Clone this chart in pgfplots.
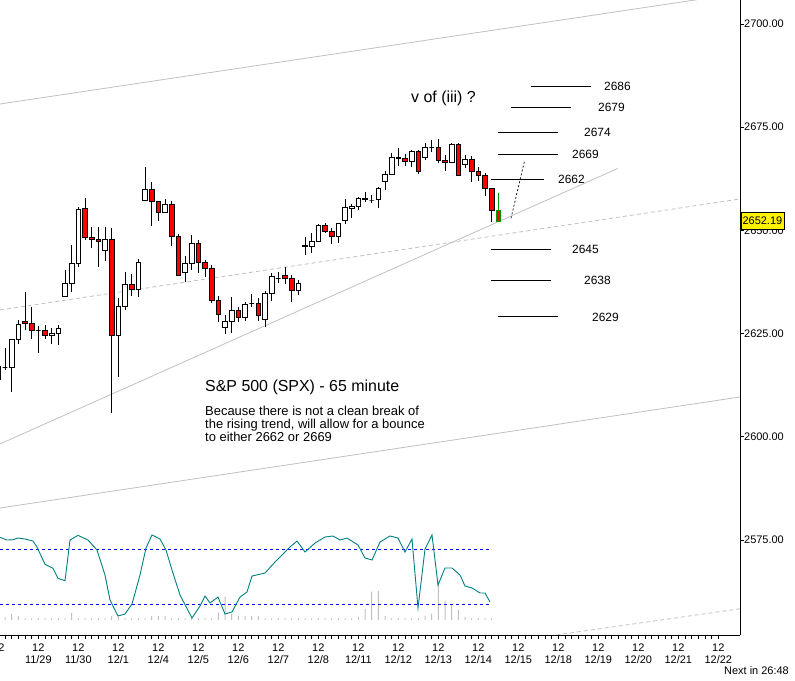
\documentclass[border=0pt]{standalone}
\usepackage{fontspec}
\setmainfont{Liberation Sans}
\usepackage{pgfplots}
\pgfplotsset{compat=1.18}
\definecolor{chgray}{RGB}{192,192,192}
\definecolor{osc}{RGB}{0,128,128}
\definecolor{cgreen}{RGB}{0,150,0}
% candle: k, open, high, low, close, fill colour, outline colour
\newcommand\cdl[7][black]{%
  \pgfmathsetmacro\cdlo{min(#3,#6)}%
  \pgfmathsetmacro\cdhi{max(#3,#6)}%
  \pgfmathsetmacro\cxa{#2-0.36}%
  \pgfmathsetmacro\cxb{#2+0.36}%
  \edef\cdlcmd{\noexpand\addplot[#1, line width=0.8bp] coordinates {(#2,#5) (#2,#4)};
    \noexpand\addplot[draw=#1, fill=#7, line width=0.8bp] coordinates {(\cxa,\cdlo) (\cxb,\cdlo) (\cxb,\cdhi) (\cxa,\cdhi)} -- cycle;}%
  \cdlcmd}
\pgfplotsset{base/.style={at={(0,0)}, anchor=south west, scale only axis,
  width=740bp, height=635bp, xmin=-0.75, xmax=110.25}}
\begin{document}
\begin{tikzpicture}
\path[use as bounding box] (0,-46bp) rectangle (795bp,635bp);
% volume-like bars
\begin{axis}[base, ymin=-15, ymax=620, hide axis, ybar, bar width=1bp]
\addplot[fill=chgray, draw=none, bar shift=0pt] coordinates {
(0,2.7)(1,6)(2,4)(3,1.5)(4,1.5)(5,1.5)(6,1.5)(7,1.5)(8,1.5)(9,1.5)(10,7)(11,1.5)(12,1.5)(13,1.5)(14,1.5)(15,1.5)
(16,4)(17,3)(18,1.5)(19,1.5)(20,1.5)(21,1.5)(22,4)(23,4)(24,4)(25,1.5)(26,1.5)(27,1.5)(28,1.5)(29,1.5)(30,1.5)(31,1.5)
(32,7.7)(33,23.3)(34,6)(35,4)(36,4)(37,4)(38,4)(39,1.5)(40,1.5)(41,1.5)(42,1.5)(43,1.5)(44,1.5)(45,1.5)(46,1.5)(47,1.5)
(48,1.5)(49,1.5)(50,1.5)(51,1.5)(52,1.5)(53,3.3)(54,11)(55,28.3)(56,29)(57,4)(58,1.5)(59,1.5)(60,1.5)(61,1.5)(62,1.5)
(63,4)(64,6.3)(65,35.7)(66,19)(67,15.7)(68,10)(69,3)(70,1.5)(71,1.5)(72,1.5)(73,1.5)};
\end{axis}
% oscillator
\begin{axis}[base, ymin=-13.8, ymax=678.9, hide axis]
\addplot[blue, line width=0.8bp, dash pattern=on 3bp off 3bp] coordinates {(-0.75,80) (72.75,80)};
\addplot[blue, line width=0.8bp, dash pattern=on 3bp off 3bp] coordinates {(-0.75,20) (72.75,20)};
\addplot[osc, line width=0.9bp] coordinates {
(-0.75,92.8)(0.3,89.8)(1.2,90.1)(1.95,92.0)(3,90.9)(4.2,88.7)(4.8,82.2)(6,63.3)(7.2,58.9)(7.95,48.0)(9,45.4)
(9.75,89.8)(10.95,94.9)(12.45,89.8)(13.8,78.9)(15,51.6)(15.75,24.4)(16.95,6.9)(18,9.1)(19.05,20.0)(20.25,51.6)
(21.15,81.1)(22.05,95.3)(23.25,90.9)(24.15,78.9)(25.05,57.1)(26.25,29.8)(28.05,4.7)(29.25,17.8)(30,28.7)(30.75,21.1)
(31.95,27.6)(33,9.1)(34.05,11.3)(35.25,27.6)(36.3,33.1)(37.05,50.5)(39,53.8)(40.5,65.8)(42.75,82.2)(43.8,88.7)
(45,76.7)(46.5,86.5)(48,93.1)(49.2,94.2)(50.25,89.8)(51.3,92.0)(52.95,84.4)(54,70.2)(55.05,68.0)(56.25,87.6)
(57.75,94.2)(58.95,92.0)(60,76.7)(61.05,90.9)(61.95,15.6)(63,80.0)(64.05,95.3)(64.95,40.7)(66,59.3)(67.05,59.3)
(68.25,51.6)(69,39.6)(70.05,37.5)(71.25,32.0)(72,32.0)(72.75,22.2)};
\end{axis}
% price
\begin{axis}[base, ymin=2552.01, ymax=2705.81,
  axis x line*=bottom, axis y line*=right,
  axis line style={-, black, line width=0.9bp},
  tick align=outside, major tick length=4bp, minor tick length=4bp,
  tick style={black, line width=0.8bp},
  xtick={-1,5,...,107}, minor x tick num=5,
  xticklabels={12,12\\11/29,12\\11/30,12\\12/1,12\\12/4,12\\12/5,12\\12/6,12\\12/7,12\\12/8,12\\12/11,12\\12/12,12\\12/13,12\\12/14,12\\12/15,12\\12/18,12\\12/19,12\\12/20,12\\12/21,12\\12/22},
  xticklabel style={font=\fontsize{11}{12.5}\selectfont, align=center, inner sep=0pt, yshift=-4.5bp},
  ytick={2575,2600,2625,2650,2675,2700},
  yticklabels={2575.00,2600.00,2625.00,2650.00,2675.00,2700.00},
  yticklabel style={font=\fontsize{11}{12}\selectfont, inner sep=0pt}
]
% channel and trend lines
\addplot[chgray, line width=0.8bp] coordinates {(-0.75,2680.62) (110.25,2707.44)};
\addplot[chgray, line width=0.8bp] coordinates {(-0.75,2582.77) (110.25,2609.66)};
\addplot[chgray, line width=0.8bp] coordinates {(-0.75,2598.28) (91.9,2665.00)};
\addplot[chgray, line width=0.8bp, dash pattern=on 4bp off 3bp] coordinates {(-0.75,2630.73) (110.25,2657.62)};
\addplot[chgray, line width=0.8bp, dash pattern=on 4bp off 3bp] coordinates {(82.65,2552.01) (110.25,2558.37)};
% target levels
\addplot[black, line width=0.8bp] coordinates {(78.9,2684.98) (87.86,2684.98)};
\addplot[black, line width=0.8bp] coordinates {(75.9,2679.83) (84.86,2679.83)};
\addplot[black, line width=0.8bp] coordinates {(74.0,2673.84) (82.9,2673.84)};
\addplot[black, line width=0.8bp] coordinates {(74.0,2668.51) (82.9,2668.51)};
\addplot[black, line width=0.8bp] coordinates {(72.9,2662.46) (80.8,2662.46)};
\addplot[black, line width=0.8bp] coordinates {(72.9,2645.43) (81.86,2645.43)};
\addplot[black, line width=0.8bp] coordinates {(72.9,2637.99) (81.86,2637.99)};
\addplot[black, line width=0.8bp] coordinates {(74.0,2629.11) (82.9,2629.11)};
\addplot[black, line width=0.7bp, dash pattern=on 2bp off 2bp] coordinates {(75.9,2652.94) (77.9,2666.65)};
% candles: k, open, high, low, close, fill
\cdl{-1}{2614.02}{2617.16}{2614.02}{2617.16}{white}
\cdl{0}{2616.80}{2621.45}{2616.19}{2616.80}{white}
\cdl{1}{2616.80}{2623.63}{2610.80}{2623.63}{white}
\cdl{2}{2623.63}{2628.19}{2622.42}{2627.29}{white}
\cdl{3}{2627.95}{2635.16}{2625.81}{2627.51}{red}
\cdl{4}{2627.51}{2631.53}{2623.63}{2625.89}{red}
\cdl{5}{2625.81}{2626.85}{2620.39}{2625.81}{white}
\cdl{6}{2625.72}{2627.10}{2623.63}{2624.61}{red}
\cdl{7}{2624.61}{2626.30}{2622.57}{2625.16}{white}
\cdl{8}{2625.09}{2627.10}{2622.18}{2626.37}{white}
\cdl{9}{2634.00}{2640.42}{2634.00}{2637.20}{white}
\cdl{10}{2637.20}{2646.47}{2635.16}{2642.04}{white}
\cdl{11}{2642.04}{2655.75}{2641.22}{2655.19}{white}
\cdl{12}{2655.36}{2657.78}{2647.69}{2648.34}{red}
\cdl{13}{2648.34}{2650.76}{2645.82}{2647.85}{red}
\cdl{14}{2647.85}{2650.76}{2641.22}{2647.27}{red}
\cdl{15}{2645.19}{2650.76}{2642.67}{2647.85}{white}
\cdl{16}{2647.85}{2650.52}{2605.71}{2624.61}{red}
\cdl{17}{2624.61}{2633.56}{2614.57}{2631.70}{white}
\cdl{18}{2631.70}{2640.01}{2630.73}{2636.96}{white}
\cdl{19}{2636.96}{2639.45}{2634.19}{2635.74}{red}
\cdl{20}{2635.74}{2643.01}{2633.81}{2642.28}{white}
\cdl{21}{2657.30}{2665.44}{2657.30}{2659.96}{white}
\cdl{22}{2659.96}{2661.66}{2651.15}{2657.06}{red}
\cdl{23}{2657.06}{2657.06}{2652.36}{2654.39}{red}
\cdl{24}{2654.30}{2657.54}{2654.15}{2656.33}{white}
\cdl{25}{2656.33}{2657.13}{2646.30}{2648.48}{red}
\cdl{26}{2648.48}{2649.07}{2638.97}{2639.21}{red}
\cdl{27}{2639.77}{2643.81}{2637.58}{2642.04}{white}
\cdl{28}{2642.04}{2648.82}{2640.42}{2646.89}{white}
\cdl{29}{2646.89}{2647.69}{2639.77}{2642.28}{red}
\cdl{30}{2642.28}{2642.84}{2638.65}{2640.83}{red}
\cdl{31}{2640.83}{2641.63}{2632.35}{2632.98}{red}
\cdl{32}{2632.98}{2634.19}{2627.90}{2629.69}{red}
\cdl{33}{2626.54}{2629.52}{2624.92}{2627.90}{white}
\cdl{34}{2628.00}{2633.81}{2625.09}{2630.66}{white}
\cdl{35}{2630.66}{2631.38}{2627.90}{2628.97}{red}
\cdl{36}{2628.97}{2632.74}{2628.00}{2632.18}{white}
\cdl{37}{2632.43}{2634.60}{2631.46}{2632.43}{white}
\cdl{38}{2632.35}{2633.56}{2628.14}{2629.35}{red}
\cdl{39}{2628.55}{2635.41}{2626.54}{2634.78}{white}
\cdl{40}{2634.78}{2639.62}{2632.98}{2638.97}{white}
\cdl{41}{2638.48}{2639.93}{2637.27}{2638.48}{white}
\cdl{42}{2639.13}{2641.22}{2637.03}{2638.41}{red}
\cdl{43}{2638.41}{2639.21}{2632.74}{2635.41}{red}
\cdl{44}{2635.41}{2638.00}{2634.36}{2637.20}{white}
\cdl{45}{2646.40}{2648.48}{2644.05}{2646.06}{red}
\cdl{46}{2646.06}{2649.31}{2644.61}{2647.44}{white}
\cdl{47}{2647.27}{2651.56}{2647.27}{2651.24}{white}
\cdl{48}{2651.24}{2651.87}{2649.45}{2649.70}{red}
\cdl{49}{2649.86}{2650.52}{2646.64}{2648.48}{red}
\cdl{50}{2648.48}{2651.73}{2647.03}{2651.73}{white}
\cdl{51}{2652.36}{2657.54}{2651.56}{2655.60}{white}
\cdl{52}{2655.36}{2656.40}{2652.94}{2655.92}{white}
\cdl{53}{2655.75}{2658.17}{2654.95}{2657.78}{white}
\cdl{54}{2657.78}{2659.38}{2656.96}{2657.44}{red}
\cdl{55}{2657.37}{2658.58}{2656.72}{2657.37}{white}
\cdl{56}{2657.54}{2660.59}{2655.36}{2660.20}{white}
\cdl{57}{2661.80}{2664.40}{2659.79}{2663.60}{white}
\cdl{58}{2663.60}{2668.68}{2663.60}{2667.71}{white}
\cdl{59}{2667.71}{2669.90}{2665.68}{2667.37}{red}
\cdl{60}{2667.37}{2668.44}{2665.61}{2666.65}{red}
\cdl{61}{2666.65}{2669.48}{2665.44}{2669.17}{white}
\cdl{62}{2669.17}{2669.48}{2663.60}{2664.23}{red}
\cdl{63}{2667.62}{2671.10}{2667.06}{2670.14}{white}
\cdl{64}{2670.14}{2671.90}{2669.07}{2670.14}{white}
\cdl{65}{2670.14}{2672.15}{2666.26}{2667.06}{red}
\cdl{66}{2667.06}{2668.27}{2664.47}{2666.50}{red}
\cdl{67}{2666.50}{2671.10}{2666.26}{2670.86}{white}
\cdl{68}{2670.86}{2671.10}{2663.19}{2663.43}{red}
\cdl{69}{2666.02}{2668.27}{2665.05}{2667.23}{white}
\cdl{70}{2667.23}{2668.03}{2661.66}{2664.23}{red}
\cdl{71}{2664.40}{2665.29}{2662.05}{2663.26}{red}
\cdl{72}{2663.43}{2663.84}{2658.34}{2660.20}{red}
\cdl{73}{2660.20}{2660.20}{2652.11}{2654.78}{red}
\cdl[cgreen]{74}{2654.95}{2659.14}{2652.19}{2652.19}{red}
\end{axis}
% annotations (pixel positions, origin at top-left)
\begin{scope}[x=1bp, y=-1bp, yshift=635bp]
\node[anchor=west, fill=yellow, draw=black, line width=0.8bp, inner sep=1bp,
  minimum height=17bp, minimum width=43bp, font=\fontsize{11}{12}\selectfont] at (740.5,221) {2652.19};
\node[anchor=base, inner sep=0pt, font=\fontsize{11}{12}\selectfont] at (-1.7,651.5) {12};
\node[anchor=west, inner sep=0pt, font=\fontsize{16}{18}\selectfont] at (411,98) {v of (iii) ?};
\begin{scope}[every node/.style={anchor=west, inner sep=0pt, font=\fontsize{12}{14}\selectfont}]
\node at (604,86) {2686};
\node at (598,107) {2679};
\node at (584,132) {2674};
\node at (572,154) {2669};
\node at (558,179) {2662};
\node at (572,249) {2645};
\node at (584,280) {2638};
\node at (592,317) {2629};
\end{scope}
\node[anchor=base west, inner sep=0pt, font=\fontsize{16}{18}\selectfont] at (205,392) {S\&P 500 (SPX) - 65 minute};
\begin{scope}[every node/.style={anchor=base west, inner sep=0pt, font=\fontsize{13}{14}\selectfont}]
\node at (205,416) {Because there is not a clean break of};
\node at (205,429) {the rising trend, will allow for a bounce};
\node at (205,442) {to either 2662 or 2669};
\end{scope}
\node[anchor=east, inner sep=0pt, font=\fontsize{11}{12}\selectfont] at (789,671) {Next in 26:48};
\end{scope}
\end{tikzpicture}
\end{document}
